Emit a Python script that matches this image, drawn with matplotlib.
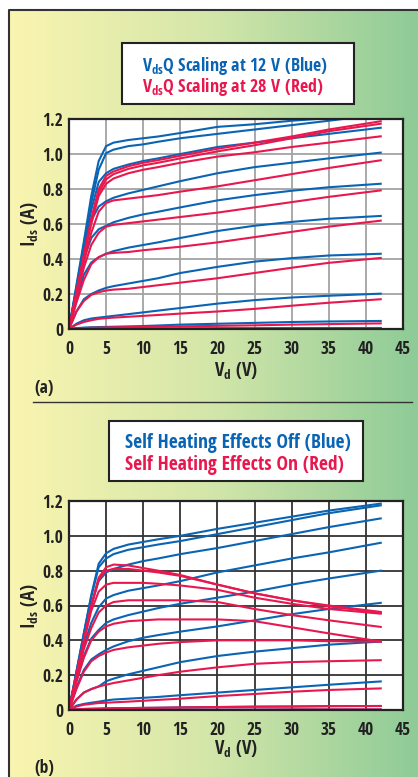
import numpy as np
import matplotlib
matplotlib.use('Agg')
import matplotlib.pyplot as plt
from matplotlib.colors import LinearSegmentedColormap
from matplotlib.patches import Rectangle

FONT = ['Liberation Sans Narrow', 'DejaVu Sans Condensed', 'Noto Sans Condensed',
        'Open Sans Condensed', 'Roboto Condensed', 'Liberation Sans', 'DejaVu Sans']
plt.rcParams['font.family'] = FONT
plt.rcParams['font.weight'] = 'bold'
plt.rcParams['font.stretch'] = 'condensed'
plt.rcParams['mathtext.default'] = 'regular'

# ---------------- data ----------------
vd = [0, 1, 2, 3, 4, 5, 6, 8, 10, 12, 15, 20, 25, 30, 35, 42]

# panel (a): VdsQ scaling at 12 V (blue)
a_blue = [
    [0, .25, .50, .76, .96, 1.045, 1.065, 1.08, 1.09, 1.10, 1.12, 1.155, 1.17, 1.19, 1.205, 1.23],
    [0, .24, .48, .72, .91, 1.005, 1.025, 1.045, 1.055, 1.07, 1.09, 1.115, 1.14, 1.165, 1.19, 1.227],
    [0, .23, .46, .68, .84, .89, .915, .94, .96, .975, 1.0, 1.04, 1.065, 1.09, 1.115, 1.150],
    [0, .22, .44, .62, .70, .73, .75, .775, .795, .815, .845, .89, .925, .95, .975, 1.008],
    [0, .20, .40, .52, .57, .59, .61, .635, .655, .67, .695, .735, .765, .79, .81, .830],
    [0, .17, .31, .38, .41, .43, .445, .465, .48, .495, .52, .56, .59, .612, .63, .646],
    [0, .10, .17, .20, .22, .235, .245, .26, .275, .29, .32, .355, .385, .405, .42, .430],
    [0, .03, .05, .06, .065, .07, .075, .085, .095, .105, .12, .145, .165, .18, .19, .202],
    [0, .005, .008, .01, .011, .012, .013, .015, .017, .02, .025, .03, .035, .04, .043, .046],
    [0, .001, .001, .001, .002, .002, .002, .002, .003, .003, .003, .004, .004, .005, .005, .006],
]
# panel (a): VdsQ scaling at 28 V (red)
a_red = [
    [0, .21, .42, .63, .80, .875, .90, .93, .95, .965, .99, 1.03, 1.065, 1.10, 1.14, 1.187],
    [0, .21, .42, .62, .78, .855, .885, .915, .935, .95, .975, 1.015, 1.05, 1.09, 1.13, 1.173],
    [0, .20, .41, .60, .76, .83, .86, .89, .91, .925, .95, .985, 1.01, 1.04, 1.065, 1.101],
    [0, .19, .38, .55, .67, .72, .735, .745, .755, .765, .785, .815, .85, .885, .92, .964],
    [0, .18, .35, .48, .55, .585, .595, .605, .615, .625, .64, .665, .695, .725, .755, .792],
    [0, .15, .28, .37, .41, .43, .435, .44, .45, .458, .47, .495, .525, .555, .585, .619],
    [0, .10, .16, .195, .21, .22, .225, .23, .24, .25, .265, .29, .32, .35, .378, .406],
    [0, .025, .04, .05, .058, .062, .065, .07, .075, .08, .088, .10, .115, .133, .15, .170],
    [0, .003, .005, .007, .008, .009, .01, .011, .012, .013, .015, .018, .021, .025, .028, .032],
    [0, .0, .001, .001, .001, .001, .001, .002, .002, .002, .002, .003, .003, .003, .004, .004],
]
# panel (b): self heating off (blue)
b_blue = [
    [0, .22, .44, .66, .84, .90, .925, .95, .965, .98, 1.0, 1.04, 1.075, 1.11, 1.145, 1.185],
    [0, .22, .44, .65, .82, .87, .895, .92, .935, .95, .97, 1.01, 1.05, 1.09, 1.13, 1.175],
    [0, .21, .42, .60, .74, .79, .81, .835, .855, .87, .895, .93, .97, 1.01, 1.05, 1.10],
    [0, .19, .37, .50, .59, .64, .66, .685, .70, .715, .74, .79, .83, .87, .905, .96],
    [0, .17, .31, .41, .46, .50, .52, .545, .565, .585, .61, .645, .68, .72, .755, .80],
    [0, .13, .23, .29, .32, .345, .365, .395, .415, .43, .45, .48, .515, .55, .58, .615],
    [0, .06, .10, .12, .135, .165, .18, .205, .225, .245, .275, .31, .335, .355, .375, .393],
    [0, .025, .035, .042, .048, .055, .06, .065, .07, .075, .085, .10, .115, .13, .145, .164],
    [0, .004, .006, .007, .008, .009, .01, .011, .012, .013, .015, .017, .019, .02, .022, .023],
    [0, .0, .001, .001, .001, .001, .001, .001, .002, .002, .002, .002, .002, .003, .003, .003],
]
# panel (b): self heating on (red)
b_red = [
    [0, .20, .40, .60, .76, .82, .835, .83, .815, .80, .775, .72, .67, .63, .60, .563],
    [0, .20, .40, .60, .75, .80, .81, .81, .80, .79, .77, .72, .67, .63, .595, .558],
    [0, .20, .39, .57, .68, .72, .73, .73, .73, .725, .715, .69, .645, .61, .58, .553],
    [0, .18, .35, .47, .56, .60, .62, .63, .63, .63, .63, .62, .58, .545, .515, .477],
    [0, .16, .30, .40, .45, .48, .495, .51, .515, .52, .52, .52, .51, .475, .44, .393],
    [0, .12, .22, .28, .31, .33, .345, .36, .37, .38, .39, .40, .40, .40, .395, .393],
    [0, .06, .10, .12, .135, .145, .155, .17, .185, .20, .22, .245, .265, .275, .28, .286],
    [0, .02, .03, .035, .04, .042, .044, .048, .053, .058, .065, .08, .092, .105, .115, .124],
    [0, .004, .006, .007, .008, .009, .01, .011, .012, .013, .015, .017, .019, .02, .022, .023],
    [0, .0, .001, .001, .001, .001, .001, .001, .002, .002, .002, .002, .002, .003, .003, .003],
]

x_ticks = [0, 5, 10, 15, 20, 25, 30, 35, 40, 45]
y_ticks = [0, 0.2, 0.4, 0.6, 0.8, 1.0, 1.2]
y_ticklabels = ['0', '0.2', '0.4', '0.6', '0.8', '1.0', '1.2']

BLUE = '#0a64b4'
RED = '#e8184e'

# ---------------- figure ----------------
W, H = 418, 777
fig = plt.figure(figsize=(W / 100, H / 100), dpi=100)

bg = fig.add_axes([0, 0, 1, 1], zorder=-10)
bg.set_xlim(0, W)
bg.set_ylim(H, 0)
bg.axis('off')
cmap = LinearSegmentedColormap.from_list(
    'bg', [(0, '#faf5b0'), (0.5, '#d3e6a9'), (1, '#8ecb97')])
grad = np.linspace(0, 1, 256).reshape(1, -1)
bg.imshow(grad, extent=[9, W, H, 10], cmap=cmap, aspect='auto', interpolation='bilinear')
bg.plot([9, 9, W], [H, 10, 10], color='#333333', lw=1.5, solid_capstyle='butt')
bg.plot([33, 412], [402, 402], color='#333333', lw=1.0)


def px_axes(l, t, r, b):
    return fig.add_axes([l / W, 1 - b / H, (r - l) / W, (b - t) / H])


def setup(ax, gridcolor):
    ax.set_xlim(0, 45)
    ax.set_ylim(0, 1.2)
    ax.set_xticks(x_ticks)
    ax.set_xticklabels([str(t) for t in x_ticks])
    ax.set_yticks(y_ticks)
    ax.set_yticklabels(y_ticklabels)
    ax.tick_params(length=0, labelsize=12.5, colors='#222222')
    ax.tick_params(axis='x', pad=8)
    ax.tick_params(axis='y', pad=4)
    for lab in ax.get_xticklabels() + ax.get_yticklabels():
        lab.set_fontweight('bold')
    ax.grid(True, color=gridcolor, lw=1.3)
    ax.set_axisbelow(True)
    for s in ax.spines.values():
        s.set_color('#222222')
        s.set_linewidth(1.6)
    ax.set_facecolor('white')


ax_a = px_axes(69, 119, 403, 329)
setup(ax_a, '#a3a3a3')
for c in a_blue:
    ax_a.plot(vd, c, color=BLUE, lw=1.5, solid_joinstyle='round')
for c in a_red:
    ax_a.plot(vd, c, color=RED, lw=1.5, solid_joinstyle='round')

ax_b = px_axes(69, 501, 403, 710)
setup(ax_b, '#333333')
for c in b_blue:
    ax_b.plot(vd, c, color=BLUE, lw=1.5, solid_joinstyle='round')
for c in b_red:
    ax_b.plot(vd, c, color=RED, lw=1.5, solid_joinstyle='round')

# title boxes
bg.add_patch(Rectangle((122, 43), 232, 61, facecolor='white', edgecolor='#222222', lw=1.5))
bg.text(142, 71, r'V$_{ds}$Q Scaling at 12 V (Blue)', color=BLUE, fontsize=13,
        fontweight='bold', ha='left', va='baseline')
bg.text(142, 92.5, r'V$_{ds}$Q Scaling at 28 V (Red)', color=RED, fontsize=13,
        fontweight='bold', ha='left', va='baseline')

bg.add_patch(Rectangle((109, 421), 254, 60, facecolor='white', edgecolor='#222222', lw=1.5))
bg.text(125, 448, 'Self Heating Effects Off (Blue)', color=BLUE, fontsize=14,
        fontweight='bold', ha='left', va='baseline')
bg.text(125, 470, 'Self Heating Effects On (Red)', color=RED, fontsize=14,
        fontweight='bold', ha='left', va='baseline')

# axis labels
for yb, yc in [(377, 224), (755, 606)]:
    bg.text(236, yb, r'V$_{d}$ (V)', color='#222222', fontsize=13.5, fontweight='bold',
            ha='center', va='baseline')
    bg.text(30, yc, r'I$_{ds}$ (A)', color='#222222', fontsize=13.5, fontweight='bold',
            ha='center', va='center', rotation=90)

bg.text(34, 388, '(a)', color='#222222', fontsize=12.5, fontweight='bold', ha='left', va='center')
bg.text(34, 768, '(b)', color='#222222', fontsize=12.5, fontweight='bold', ha='left', va='center')

fig.savefig('out.png', dpi=100)
